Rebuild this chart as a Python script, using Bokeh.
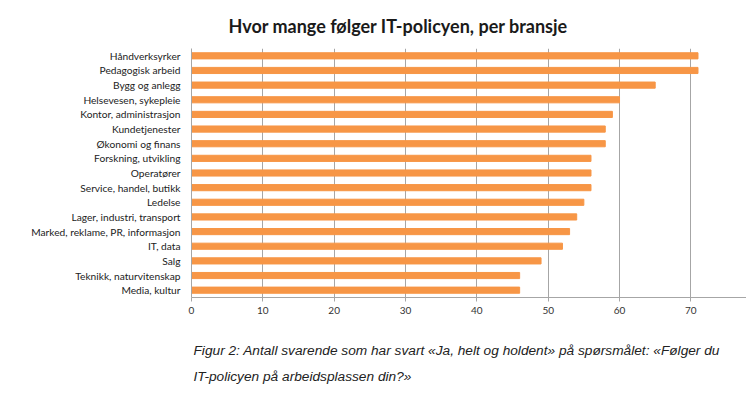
from bokeh.plotting import figure
from bokeh.models import Title, FixedTicker, Range1d
from bokeh.embed import file_html
from bokeh.resources import INLINE

categories = ["Håndverksyrker", "Pedagogisk arbeid", "Bygg og anlegg", "Helsevesen, sykepleie",
              "Kontor, administrasjon", "Kundetjenester", "Økonomi og finans", "Forskning, utvikling",
              "Operatører", "Service, handel, butikk", "Ledelse", "Lager, industri, transport",
              "Marked, reklame, PR, informasjon", "IT, data", "Salg", "Teknikk, naturvitenskap",
              "Media, kultur"]
values = [71, 71, 65, 60, 59, 58, 58, 56, 56, 56, 55, 54, 53, 52, 49, 46, 46]
x_ticks = [0, 10, 20, 30, 40, 50, 60, 70]

title_text = "Hvor mange følger IT-policyen, per bransje"
caption1 = "Figur 2: Antall svarende som har svart «Ja, helt og holdent» på spørsmålet: «Følger du"
caption2 = "IT-policyen på arbeidsplassen din?»"

p = figure(width=746, height=416, y_range=list(reversed(categories)),
           x_range=Range1d(0, 77.8), output_backend="svg", toolbar_location=None,
           min_border_left=191, min_border_right=0, min_border_top=48, min_border_bottom=119)

p.title.text = title_text
p.title.text_font = "Lato"
p.title.text_font_style = "bold"
p.title.text_font_size = "18px"
p.title.text_color = "#1a1a1a"
p.title.align = "left"
p.title.offset = 37
p.title.standoff = 24

p.hbar(y=categories, right=values, left=0, height=0.42, color="#F79646")

p.outline_line_color = None
p.ygrid.grid_line_color = None
p.xgrid.grid_line_color = "#a6a6a6"
p.xgrid.grid_line_width = 1
p.xaxis.ticker = FixedTicker(ticks=x_ticks)
p.xaxis.axis_line_color = "#a6a6a6"
p.xaxis.major_tick_line_color = "#a6a6a6"
p.xaxis.major_tick_in = 0
p.xaxis.major_tick_out = 4
p.xaxis.minor_tick_line_color = None
p.xaxis.major_label_text_font = "Lato"
p.xaxis.major_label_text_font_size = "10px"
p.xaxis.major_label_text_color = "#333333"
p.xaxis.major_label_standoff = 5

p.yaxis.axis_line_color = "#a6a6a6"
p.yaxis.major_tick_line_color = None
p.yaxis.major_label_text_font = "Lato"
p.yaxis.major_label_text_font_size = "10.2px"
p.yaxis.major_label_text_color = "#222222"
p.yaxis.major_label_standoff = 5

cap = Title(text=caption1 + "\n" + caption2, align="left", offset=2,
            text_font="Liberation Sans", text_font_style="italic",
            text_font_size="13.7px", text_color="#222222",
            text_line_height=1.7, standoff=48)
p.add_layout(cap, "below")

open("out.html", "w").write(file_html(p, INLINE))
